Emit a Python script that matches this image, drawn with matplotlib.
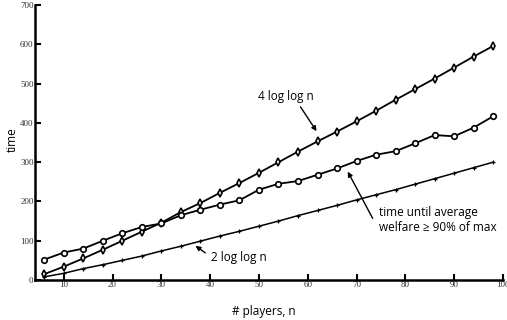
import matplotlib.pyplot as plt

# players n
n = [6, 10, 14, 18, 22, 26, 30, 34, 38, 42, 46, 50,
     54, 58, 62, 66, 70, 74, 78, 82, 86, 90, 94, 98]

# 4 log log n  (diamonds)
four_loglog = [15, 34, 55, 77, 100, 123, 146, 173, 196, 222, 247, 273,
               300, 327, 353, 378, 404, 431, 459, 486, 513, 541, 569, 596]

# time until average welfare >= 90% of max  (circles)
welfare_time = [52, 70, 80, 100, 119, 135, 144, 165, 179, 192, 203, 230,
                245, 252, 268, 284, 303, 319, 328, 348, 369, 366, 388, 417]

# 2 log log n  (plus)
two_loglog = [8, 17, 29, 39, 50, 61, 74, 86, 99, 112, 124, 137,
              150, 164, 177, 190, 204, 217, 230, 244, 258, 272, 286, 300]

fig = plt.figure(figsize=(5.07, 3.2), dpi=100)
ax = fig.add_axes([0.069, 0.125, 0.923, 0.859])

ax.plot(n, four_loglog, color='black', lw=1.3, marker='d', ms=4,
        mfc='white', mec='black', mew=1.2)
ax.plot(n, welfare_time, color='black', lw=1.3, marker='o', ms=4,
        mfc='white', mec='black', mew=1.2)
ax.plot(n, two_loglog, color='black', lw=1.1, marker='+', ms=3.5, mew=0.9)

ax.set_xlim(4.1, 100)
ax.set_ylim(0, 700)
ax.set_xticks([10, 20, 30, 40, 50, 60, 70, 80, 90, 100])
ax.set_yticks([0, 100, 200, 300, 400, 500, 600, 700])

for s in ['top', 'right']:
    ax.spines[s].set_visible(False)
for s in ['left', 'bottom']:
    ax.spines[s].set_linewidth(1.8)
ax.tick_params(direction='in', length=4, width=1.5, pad=1, labelsize=6.5)
for lab in ax.get_xticklabels() + ax.get_yticklabels():
    lab.set_family('Liberation Serif')
    lab.set_color('#333333')

sans = 'Open Sans'
ax.set_xlabel('# players, n', family=sans, fontsize=8.5)
ax.set_ylabel('time', family=sans, fontsize=8.5)
ax.xaxis.set_label_coords(0.49, -0.09)
ax.yaxis.set_label_coords(-0.035, 0.51)

arr = dict(arrowstyle='-|>', color='black', lw=1.0, mutation_scale=7,
           shrinkA=0, shrinkB=0)

# 4 log log n
ax.text(55.6, 467, '4 log log n', family=sans, fontsize=8.5,
        ha='center', va='center')
ax.annotate('', xy=(61.8, 379), xytext=(58.5, 441), arrowprops=arr)

# 2 log log n
ax.text(40.1, 58, '2 log log n', family=sans, fontsize=8.5,
        ha='left', va='center')
ax.annotate('', xy=(37.0, 87), xytext=(39.0, 69), arrowprops=arr)

# welfare
ax.text(74.6, 153, 'time until average\nwelfare \u2265 90% of max',
        family=sans, fontsize=8.5, ha='left', va='center', linespacing=1.15)
ax.annotate('', xy=(68.2, 276), xytext=(73.3, 157), arrowprops=arr)

fig.savefig('out.png', dpi=100)
